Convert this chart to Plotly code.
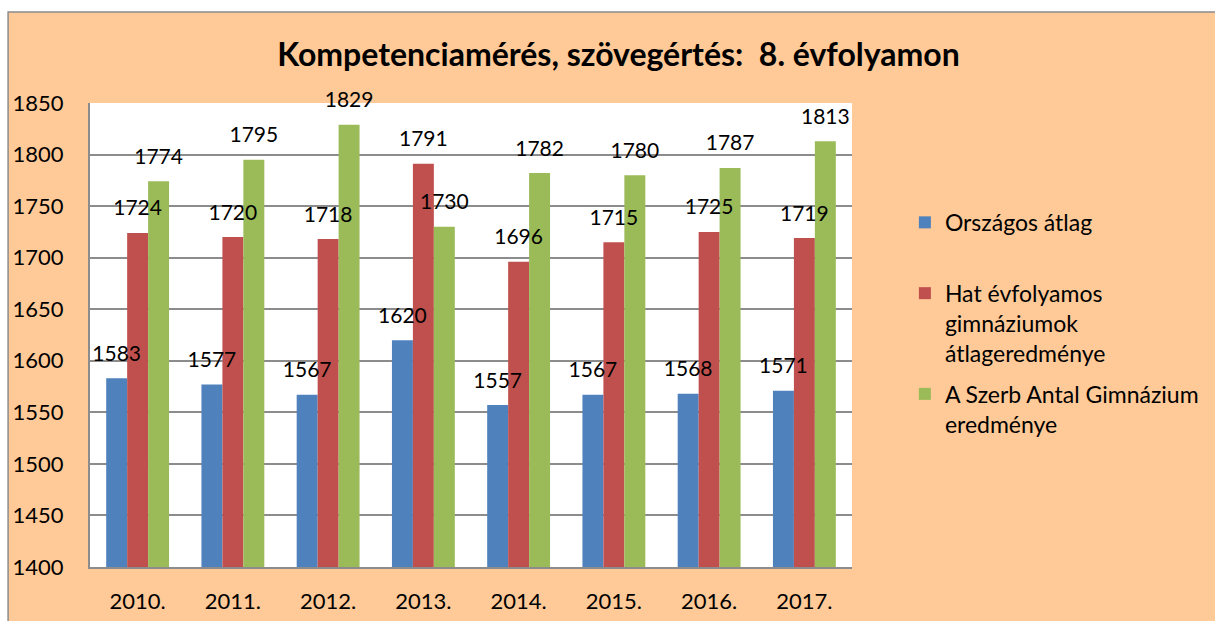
import plotly.graph_objects as go

years = ["2010.", "2011.", "2012.", "2013.", "2014.", "2015.", "2016.", "2017."]
orszagos = [1583, 1577, 1567, 1620, 1557, 1567, 1568, 1571]
hat_evfolyamos = [1724, 1720, 1718, 1791, 1696, 1715, 1725, 1719]
szerb_antal = [1774, 1795, 1829, 1730, 1782, 1780, 1787, 1813]

series = [
    ("Országos átlag<br> ", orszagos, "#4F81BD"),
    ("Hat évfolyamos<br>gimnáziumok<br>átlageredménye", hat_evfolyamos, "#C0504D"),
    ("A Szerb Antal Gimnázium<br>eredménye", szerb_antal, "#9BBB59"),
]

FONT = "Lato, Carlito, Calibri, sans-serif"
PEACH = "#FFCA97"
GAP = 0.34

fig = go.Figure()
for i, (name, vals, color) in enumerate(series):
    fig.add_trace(go.Bar(
        x=years,
        y=vals,
        name=name,
        marker_color=color,
        marker_line_width=0,
        legendgroup=f"g{i}",
    ))

# value labels on top of all bars (Excel draws them above every series)
for i, (name, vals, color) in enumerate(series):
    fig.add_trace(go.Scatter(
        x=years,
        y=vals,
        mode="markers+text",
        text=vals,
        textposition="top center",
        textfont=dict(size=21, color="#000000", family=FONT),
        marker=dict(size=18, opacity=0),
        cliponaxis=False,
        showlegend=False,
        hoverinfo="skip",
    ))

# white strips and thin gray border around the chart area
fig.add_shape(type="rect", xref="paper", yref="paper",
              x0=-0.2, x1=1.6, y0=1.196, y1=1.3,
              fillcolor="white", line_width=0, layer="below")
fig.add_shape(type="rect", xref="paper", yref="paper",
              x0=-0.2, x1=-0.1075, y0=-0.2, y1=1.3,
              fillcolor="white", line_width=0, layer="below")
fig.add_shape(type="rect", xref="paper", yref="paper",
              x0=-0.1075, x1=1.6, y0=-0.2, y1=1.196,
              fillcolor="rgba(0,0,0,0)", line=dict(color="#8C8C8C", width=1.5))

fig.update_layout(
    width=1215,
    height=621,
    margin=dict(l=90, r=362, t=103, b=54),
    paper_bgcolor=PEACH,
    plot_bgcolor="white",
    font=dict(family=FONT, color="#000000"),
    title=dict(
        text="<b>Kompetenciamérés, szövegértés:\u00a0 8. évfolyamon</b>",
        x=0.509, xanchor="center", y=0.911, yanchor="middle",
        font=dict(size=32, family=FONT),
    ),
    barmode="group",
    bargap=GAP,
    bargroupgap=0,
    scattermode="group",
    scattergap=GAP,
    showlegend=True,
    legend=dict(
        x=1.068, xanchor="left", y=0.789, yanchor="top",
        font=dict(size=23, family=FONT),
        bgcolor="rgba(0,0,0,0)",
        tracegroupgap=8,
        valign="top",
        itemwidth=30,
    ),
)

fig.update_xaxes(
    showline=True, linecolor="#8C8C8C", linewidth=2,
    tickfont=dict(size=22, family=FONT),
    ticks="", ticklabelstandoff=14,
    automargin=False,
)
fig.update_yaxes(
    range=[1400, 1850], dtick=50,
    showgrid=True, gridcolor="#8C8C8C", gridwidth=1.5,
    showline=True, linecolor="#8C8C8C", linewidth=2,
    tickfont=dict(size=22, family=FONT),
    ticks="", ticklabelstandoff=20,
    zeroline=False,
    automargin=False,
)

fig.write_html(
    "out.html",
    config={"displayModeBar": False},
    post_script="document.body.style.margin='0';",
)
